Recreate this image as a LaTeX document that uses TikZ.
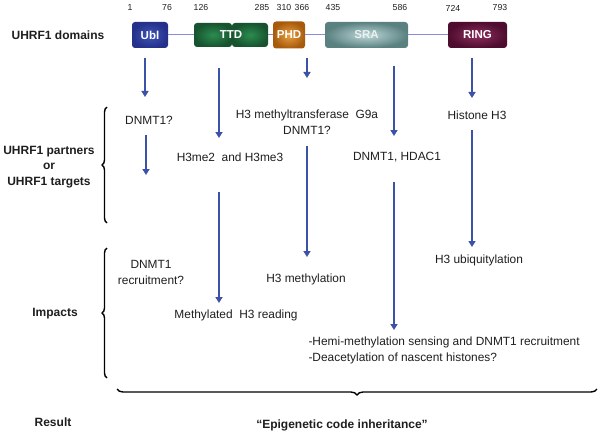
\documentclass[tikz,border=0pt]{standalone}
\usepackage{fontspec}
\setmainfont{Liberation Sans}
\usepackage{xcolor}
\usepackage{tikz}
\usetikzlibrary{positioning,calc,arrows.meta,decorations.pathreplacing}

\definecolor{flowblue}{HTML}{3C52A8}
\definecolor{linkline}{HTML}{8A8AD8}
\definecolor{ublout}{HTML}{24308A}
\definecolor{ublin}{HTML}{3E55B8}
\definecolor{ttdout}{HTML}{17532F}
\definecolor{ttdin}{HTML}{2C8C50}
\definecolor{phdout}{HTML}{A85A0C}
\definecolor{phdin}{HTML}{E9A040}
\definecolor{sraout}{HTML}{5A8080}
\definecolor{srain}{HTML}{BDD8D8}
\definecolor{ringout}{HTML}{4E0D2E}
\definecolor{ringin}{HTML}{8E2E60}
\definecolor{ink}{HTML}{1E1E1E}

\tikzset{
    dombox/.style={rounded corners=3pt, minimum height=26pt, inner sep=0pt,
        font=\fontsize{11.5}{13}\selectfont\bfseries, text=white},
    flow/.style={draw=flowblue, line width=2.4pt,
        -{Triangle[width=7pt,length=6pt]}},
    txt/.style={font=\fontsize{11.9}{16}\selectfont, align=center, text=ink},
    head/.style={font=\fontsize{12}{15.5}\selectfont\bfseries, align=center, text=ink},
    resnum/.style={font=\fontsize{8.7}{10}\selectfont, text=ink},
    curly/.style={decorate, decoration={brace, amplitude=5pt}, line width=1.4pt}
}

\begin{document}
\begin{tikzpicture}[x=1pt, y=-1pt]
    \useasboundingbox (0,0) rectangle (600,436);

    % Domain bar
    \node [dombox, minimum width=36pt, inner color=ublin, outer color=ublout] (ubl) at (150,35) {Ubl};
    \node [dombox, minimum width=38pt, minimum height=24pt, inner color=ttdin, outer color=ttdout] (ttdA) at (213,35) {};
    \node [dombox, minimum width=36pt, minimum height=24pt, inner color=ttdin, outer color=ttdout] (ttdB) at (250,35) {};
    \node [dombox] (ttd) at (231,35) {TTD};
    \node [dombox, minimum width=32pt, minimum height=27pt, inner color=phdin, outer color=phdout] (phd) at (289,35) {PHD};
    \node [dombox, minimum width=83pt, inner color=srain, outer color=sraout, text=white!88!sraout] (sra) at (366.5,35) {SRA};
    \node [dombox, minimum width=59pt, inner color=ringin, outer color=ringout] (ring) at (477.5,35) {RING};
    \draw [linkline, line width=1pt] (ubl) -- (ttdA);
    \draw [linkline, line width=1pt] (ttdB) -- (phd);
    \draw [linkline, line width=1pt] (phd) -- (sra);
    \draw [linkline, line width=1pt] (sra) -- (ring);

    % Residue numbers
    \foreach \num/\x in {1/130, 76/167, 126/201, 285/262, 310/284, 366/302, 435/333, 586/400, 724/453, 793/500}
        \node [resnum] (n\num) at (\x,8) {\num};

    % Row headings
    \node [head] (domains) at (58,35) {UHRF1 domains};
    \node [head] (partners) at (49,167) {UHRF1 partners\\or\\UHRF1 targets};
    \node [head] (impacts) at (55,314) {Impacts};
    \node [head] (result) at (53,422) {Result};

    % Braces
    \coordinate (pbot) at (107,223);
    \coordinate (ptop) at (107,107);
    \draw [curly] (pbot) -- (ptop);
    \coordinate (ibot) at (107,378);
    \coordinate (itop) at (107,248);
    \draw [curly] (ibot) -- (itop);
    \coordinate (rright) at (597,389);
    \coordinate (rleft) at (117,389);
    \draw [curly, decoration={brace, amplitude=6pt}] (rright) -- (rleft);

    % Partners / targets
    \node [txt] (dnmtq) at (149,120) {DNMT1?};
    \node [txt] (h3me) at (230,157) {H3me2\ \ and H3me3};
    \node [txt] (g9a) at (307,122) {H3 methyltransferase\ \ G9a\\DNMT1?};
    \node [txt] (hdac) at (397,157) {DNMT1, HDAC1};
    \node [txt] (histone) at (477,115) {Histone H3};

    % Impacts
    \node [txt] (recruit) at (151,272.5) {DNMT1\\recruitment?};
    \node [txt] (reading) at (236,315) {Methylated\ \ H3 reading};
    \node [txt] (methyl) at (306,279) {H3 methylation};
    \node [txt] (ubiq) at (479,260) {H3\ ubiquitylation};
    \node [txt, align=left, anchor=west] (hemi) at (305,350.5) {-Hemi-methylation sensing and DNMT1 recruitment\\-Deacetylation of nascent histones?};

    % Result
    \node [head] (epi) at (342,425) {``Epigenetic code inheritance''};

    % Arrows
    \foreach \name/\x/\ya/\yb in {ublA/145/58/97, ublB/146/135/175, ttdC/219/68/138, ttdD/219/192/303,
            phdA/307/58/78, phdB/307/146/257, sraA/394/66/136, sraB/394/182/330,
            ringA/472/58/98, ringB/472/130/247} {
        \coordinate (\name s) at (\x,\ya);
        \coordinate (\name e) at (\x,\yb);
        \draw [flow] (\name s) -- (\name e);
    }
\end{tikzpicture}
\end{document}
